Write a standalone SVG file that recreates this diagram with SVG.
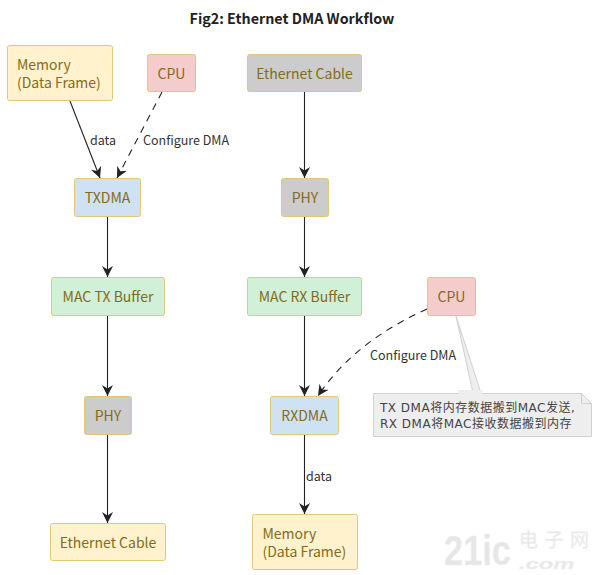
<svg xmlns="http://www.w3.org/2000/svg" width="598" height="575" viewBox="0 0 598 575">
<style>
text{font-family:"Noto Sans CJK SC","Noto Sans",sans-serif}
.n{stroke:#e0c878;stroke-width:1;}
.t{font-size:14px;fill:#856a1a;text-anchor:middle}
.tl{font-size:14px;fill:#856a1a}
.l{font-size:12.500px;fill:#333}
.c{fill:none;stroke:#222;stroke-width:1.1}
.d{stroke-dasharray:7 6}
.mem{fill:#fff2cc}.cpu{fill:#f4cccc}.gr{fill:#cccccc}.bl{fill:#cfe2f3}.ge{fill:#d0f0d8}
.nt{font-family:"DejaVu Sans","Noto Sans CJK SC",sans-serif;font-size:12px;fill:#444;letter-spacing:.5px}
</style>
<defs>
<marker id="a" markerUnits="userSpaceOnUse" markerWidth="14" markerHeight="14" refX="11" refY="6" orient="auto">
<path d="M0 0.5L11 6L0 11.5L3.5 6Z" fill="#222"/>
</marker>
</defs>
<text x="292" y="24" font-size="14.300" font-weight="700" fill="#222" text-anchor="middle">Fig2: Ethernet DMA Workflow</text>
<g id="connectors">
<path class="c" d="M70 101L100 178" marker-end="url(#a)"/>
<path class="c d" d="M162 92L117 178" marker-end="url(#a)"/>
<path class="c" d="M107.500 217V277" marker-end="url(#a)"/>
<path class="c" d="M107.500 316V396" marker-end="url(#a)"/>
<path class="c" d="M107.500 434V523" marker-end="url(#a)"/>
<path class="c" d="M304.500 92V178" marker-end="url(#a)"/>
<path class="c" d="M304.500 216V277" marker-end="url(#a)"/>
<path class="c" d="M304.500 316V396" marker-end="url(#a)"/>
<path class="c" d="M304.500 434V514" marker-end="url(#a)"/>
<path class="c d" d="M427 309C385 328 345 355 318 396" marker-end="url(#a)"/>
<text class="l" x="90" y="145">data</text>
<text class="l" x="143" y="145">Configure DMA</text>
<text class="l" x="306" y="481">data</text>
<text class="l" x="370" y="360">Configure DMA</text>
</g>
<g id="mem1"><rect class="n mem" x="7.500" y="45.500" width="105" height="55" rx="2"/><text class="tl"><tspan x="17" y="70">Memory</tspan><tspan x="17" y="88">(Data Frame)</tspan></text></g>
<g id="cpu1"><rect class="n cpu" x="147.500" y="54.500" width="48" height="37" rx="2"/><text class="t" x="171.500" y="79">CPU</text></g>
<g id="cable1"><rect class="n gr" x="247.500" y="54.500" width="114" height="37" rx="2"/><text class="t" x="304.500" y="79">Ethernet Cable</text></g>
<g id="txdma"><rect class="n bl" x="74.500" y="178.500" width="66" height="38" rx="2"/><text class="t" x="107.500" y="203">TXDMA</text></g>
<g id="phy1"><rect class="n gr" x="281.500" y="178.500" width="47" height="38" rx="2"/><text class="t" x="305" y="203">PHY</text></g>
<g id="mactx"><rect class="n ge" x="51.500" y="277.500" width="113" height="38" rx="2"/><text class="t" x="108" y="302">MAC TX Buffer</text></g>
<g id="macrx"><rect class="n ge" x="247.500" y="277.500" width="114" height="38" rx="2"/><text class="t" x="304.500" y="302">MAC RX Buffer</text></g>
<g id="cpu2"><rect class="n cpu" x="427.500" y="277.500" width="48" height="38" rx="2"/><text class="t" x="451.500" y="302">CPU</text></g>
<g id="note">
<path d="M456 316L473 393H481Z" fill="#eeeeee" stroke="#d0d0d0"/>
<path d="M373.500 393.500H581.500L591.500 403.500V436.500H373.500Z" fill="#eeeeee" stroke="#d0d0d0"/>
<path d="M581.500 393.500V403.500H591.500" fill="none" stroke="#d0d0d0"/>
<rect x="458" y="390" width="25" height="4.500" fill="#eeeeee"/>
<text class="nt"><tspan x="380" y="412">TX DMA将内存数据搬到MAC发送,</tspan><tspan x="380" y="428">RX DMA将MAC接收数据搬到内存</tspan></text>
</g>
<g id="phy2"><rect class="n gr" x="84.500" y="396.500" width="47" height="38" rx="2"/><text class="t" x="108" y="421">PHY</text></g>
<g id="rxdma"><rect class="n bl" x="270.500" y="396.500" width="68" height="38" rx="2"/><text class="t" x="304.500" y="421">RXDMA</text></g>
<g id="cable2"><rect class="n mem" x="50.500" y="523.500" width="115" height="37" rx="2"/><text class="t" x="108" y="548">Ethernet Cable</text></g>
<g id="mem2"><rect class="n mem" x="252.500" y="514.500" width="105" height="55" rx="2"/><text class="tl"><tspan x="262.500" y="539">Memory</tspan><tspan x="262.500" y="557">(Data Frame)</tspan></text></g>
<g id="watermark" fill="#e6e6e6" stroke="#f2f2f2" stroke-width="0.5">
<text transform="translate(444 565) scale(.82 1)" font-size="42" font-weight="700" style="font-family:'Liberation Sans',sans-serif">21ic</text>
<text x="519" y="547" font-size="19" textLength="70" lengthAdjust="spacing">电子网</text>
<text transform="translate(519 569) scale(1.7 1)" font-size="14" font-style="italic" font-weight="700" style="font-family:'Liberation Sans',sans-serif">.com</text>
</g>
</svg>
